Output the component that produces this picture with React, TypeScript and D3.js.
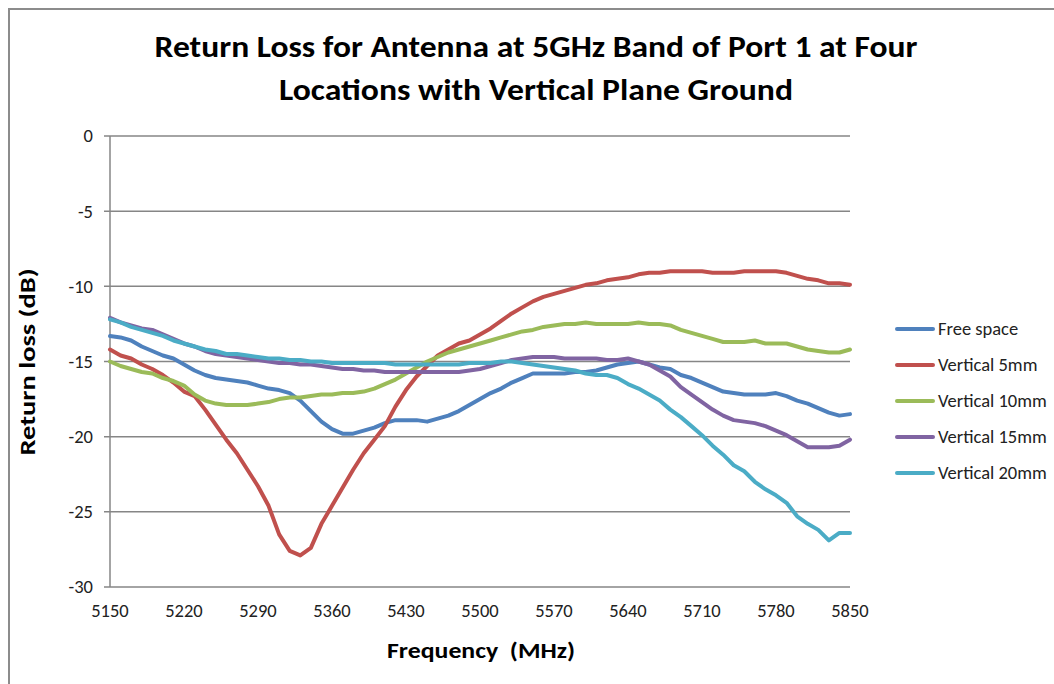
import React, { useEffect, useRef } from "react";
import * as d3 from "d3";

const frequencies: number[] = d3.range(5150, 5851, 10);

const freeSpace: number[] = [
  -13.3, -13.4, -13.6, -14.0, -14.3, -14.6, -14.8, -15.2, -15.6, -15.9,
  -16.1, -16.2, -16.3, -16.4, -16.6, -16.8, -16.9, -17.1, -17.6, -18.3,
  -19.0, -19.5, -19.8, -19.8, -19.6, -19.4, -19.1, -18.9, -18.9, -18.9,
  -19.0, -18.8, -18.6, -18.3, -17.9, -17.5, -17.1, -16.8, -16.4, -16.1,
  -15.8, -15.8, -15.8, -15.8, -15.7, -15.7, -15.6, -15.4, -15.2, -15.1,
  -15.0, -15.2, -15.4, -15.5, -15.9, -16.1, -16.4, -16.7, -17.0, -17.1,
  -17.2, -17.2, -17.2, -17.1, -17.3, -17.6, -17.8, -18.1, -18.4, -18.6,
  -18.5,
];

const vertical5mm: number[] = [
  -14.2, -14.6, -14.8, -15.2, -15.5, -15.9, -16.4, -17.0, -17.3, -18.2,
  -19.2, -20.2, -21.1, -22.2, -23.3, -24.6, -26.5, -27.6, -27.9, -27.4,
  -25.8, -24.6, -23.4, -22.2, -21.1, -20.2, -19.3, -18.0, -16.9, -16.0,
  -15.3, -14.6, -14.2, -13.8, -13.6, -13.2, -12.8, -12.3, -11.8, -11.4,
  -11.0, -10.7, -10.5, -10.3, -10.1, -9.9, -9.8, -9.6, -9.5, -9.4,
  -9.2, -9.1, -9.1, -9.0, -9.0, -9.0, -9.0, -9.1, -9.1, -9.1,
  -9.0, -9.0, -9.0, -9.0, -9.1, -9.3, -9.5, -9.6, -9.8, -9.8,
  -9.9,
];

const vertical10mm: number[] = [
  -15.0, -15.3, -15.5, -15.7, -15.8, -16.1, -16.3, -16.6, -17.2, -17.6,
  -17.8, -17.9, -17.9, -17.9, -17.8, -17.7, -17.5, -17.4, -17.4, -17.3,
  -17.2, -17.2, -17.1, -17.1, -17.0, -16.8, -16.5, -16.2, -15.8, -15.4,
  -15.0, -14.7, -14.4, -14.2, -14.0, -13.8, -13.6, -13.4, -13.2, -13.0,
  -12.9, -12.7, -12.6, -12.5, -12.5, -12.4, -12.5, -12.5, -12.5, -12.5,
  -12.4, -12.5, -12.5, -12.6, -12.9, -13.1, -13.3, -13.5, -13.7, -13.7,
  -13.7, -13.6, -13.8, -13.8, -13.8, -14.0, -14.2, -14.3, -14.4, -14.4,
  -14.2,
];

const vertical15mm: number[] = [
  -12.1, -12.4, -12.6, -12.8, -12.9, -13.2, -13.5, -13.8, -14.0, -14.3,
  -14.5, -14.6, -14.7, -14.8, -14.9, -15.0, -15.1, -15.1, -15.2, -15.2,
  -15.3, -15.4, -15.5, -15.5, -15.6, -15.6, -15.7, -15.7, -15.7, -15.7,
  -15.7, -15.7, -15.7, -15.7, -15.6, -15.5, -15.3, -15.1, -14.9, -14.8,
  -14.7, -14.7, -14.7, -14.8, -14.8, -14.8, -14.8, -14.9, -14.9, -14.8,
  -15.0, -15.2, -15.6, -16.0, -16.7, -17.2, -17.7, -18.2, -18.6, -18.9,
  -19.0, -19.1, -19.3, -19.6, -19.9, -20.3, -20.7, -20.7, -20.7, -20.6,
  -20.2,
];

const vertical20mm: number[] = [
  -12.2, -12.4, -12.7, -12.9, -13.1, -13.3, -13.6, -13.8, -14.0, -14.2,
  -14.3, -14.5, -14.5, -14.6, -14.7, -14.8, -14.8, -14.9, -14.9, -15.0,
  -15.0, -15.1, -15.1, -15.1, -15.1, -15.1, -15.1, -15.2, -15.2, -15.2,
  -15.2, -15.2, -15.2, -15.2, -15.1, -15.1, -15.1, -15.0, -15.0, -15.1,
  -15.2, -15.3, -15.4, -15.5, -15.6, -15.8, -15.9, -15.9, -16.1, -16.5,
  -16.8, -17.2, -17.6, -18.2, -18.7, -19.3, -19.9, -20.6, -21.2, -21.9,
  -22.3, -23.0, -23.5, -23.9, -24.4, -25.3, -25.8, -26.2, -26.9, -26.4,
  -26.4,
];

const seriesNames: string[] = [
  "Free space",
  "Vertical 5mm",
  "Vertical 10mm",
  "Vertical 15mm",
  "Vertical 20mm",
];
const seriesValues: number[][] = [freeSpace, vertical5mm, vertical10mm, vertical15mm, vertical20mm];
const seriesColors: string[] = ["#4F81BD", "#C0504D", "#9BBB59", "#8064A2", "#4BACC6"];

const xTicks: number[] = d3.range(5150, 5851, 70);
const yTicks: number[] = [0, -5, -10, -15, -20, -25, -30];

const titleLines: string[] = [
  "Return Loss for Antenna at 5GHz Band of Port 1 at Four",
  "Locations with Vertical Plane Ground",
];
const titleWidths: number[] = [763, 514];

const FONT = "Carlito, Calibri, Lato, 'Open Sans', sans-serif";

export default function App() {
  const ref = useRef<SVGSVGElement | null>(null);

  useEffect(() => {
    const svg = d3.select(ref.current);
    svg.selectAll("*").remove();

    const W = 1054;
    const H = 684;
    const left = 110, right = 850, top = 136, bottom = 587;

    const x = d3.scaleLinear().domain([5150, 5850]).range([left, right]);
    const y = d3.scaleLinear().domain([-30, 0]).range([bottom, top]);

    svg.append("rect").attr("width", W).attr("height", H).attr("fill", "#fff");

    // outer frame
    svg.append("path")
      .attr("d", `M9,${H} L9,9 L${W},9`)
      .attr("fill", "none")
      .attr("stroke", "#8c8c8c")
      .attr("stroke-width", 2);

    // title
    titleLines.forEach((t, i) => {
      svg.append("text")
        .attr("x", 536)
        .attr("y", 57 + i * 43)
        .attr("text-anchor", "middle")
        .attr("font-family", FONT)
        .attr("font-weight", "bold")
        .attr("font-size", 30)
        .attr("fill", "#000")
        .attr("textLength", titleWidths[i])
        .attr("lengthAdjust", "spacingAndGlyphs")
        .text(t);
    });

    // grid lines
    svg.append("g")
      .selectAll("line")
      .data(yTicks)
      .join("line")
      .attr("x1", left - 6)
      .attr("x2", right)
      .attr("y1", (d) => y(d))
      .attr("y2", (d) => y(d))
      .attr("stroke", "#868686")
      .attr("stroke-width", 1.5);

    // y axis line
    svg.append("line")
      .attr("x1", left).attr("x2", left)
      .attr("y1", top).attr("y2", bottom)
      .attr("stroke", "#868686")
      .attr("stroke-width", 1.5);

    // y tick labels
    svg.append("g")
      .selectAll("text")
      .data(yTicks)
      .join("text")
      .attr("x", 93)
      .attr("y", (d) => y(d))
      .attr("dy", "0.35em")
      .attr("text-anchor", "end")
      .attr("font-family", FONT)
      .attr("font-size", 18.5)
      .attr("fill", "#222")
      .text((d) => String(d));

    // x tick labels
    svg.append("g")
      .selectAll("text")
      .data(xTicks)
      .join("text")
      .attr("x", (d) => x(d))
      .attr("y", 617)
      .attr("text-anchor", "middle")
      .attr("font-family", FONT)
      .attr("font-size", 18.5)
      .attr("fill", "#222")
      .text((d) => String(d));

    // axis titles
    svg.append("text")
      .attr("x", 481)
      .attr("y", 658)
      .attr("text-anchor", "middle")
      .attr("font-family", FONT)
      .attr("font-weight", "bold")
      .attr("font-size", 22)
      .attr("textLength", 188)
      .attr("lengthAdjust", "spacingAndGlyphs")
      .style("white-space", "pre")
      .text("Frequency  (MHz)");

    svg.append("text")
      .attr("transform", "translate(35,362) rotate(-90)")
      .attr("text-anchor", "middle")
      .attr("font-family", FONT)
      .attr("font-weight", "bold")
      .attr("font-size", 22)
      .attr("textLength", 187)
      .attr("lengthAdjust", "spacingAndGlyphs")
      .text("Return loss (dB)");

    // series lines
    const line = d3.line<[number, number]>()
      .x((d) => x(d[0]))
      .y((d) => y(d[1]))
      .curve(d3.curveLinear);

    seriesValues.forEach((vals, i) => {
      const pts: [number, number][] = frequencies.map((f, j) => [f, vals[j]]);
      svg.append("path")
        .datum(pts)
        .attr("d", line)
        .attr("fill", "none")
        .attr("stroke", seriesColors[i])
        .attr("stroke-width", 4)
        .attr("stroke-linejoin", "round")
        .attr("stroke-linecap", "round");
    });

    // legend
    const lg = svg.append("g");
    seriesNames.forEach((name, i) => {
      const yy = 329 + i * 36;
      lg.append("line")
        .attr("x1", 897).attr("x2", 933)
        .attr("y1", yy).attr("y2", yy)
        .attr("stroke", seriesColors[i])
        .attr("stroke-width", 4)
        .attr("stroke-linecap", "round");
      lg.append("text")
        .attr("x", 938)
        .attr("y", yy)
        .attr("dy", "0.35em")
        .attr("font-family", FONT)
        .attr("font-size", 18.5)
        .attr("fill", "#222")
        .text(name);
    });
  }, []);

  return (
    <div style={{ position: "fixed", left: 0, top: 0 }}>
      <svg ref={ref} width={1054} height={684} style={{ display: "block" }} />
    </div>
  );
}
